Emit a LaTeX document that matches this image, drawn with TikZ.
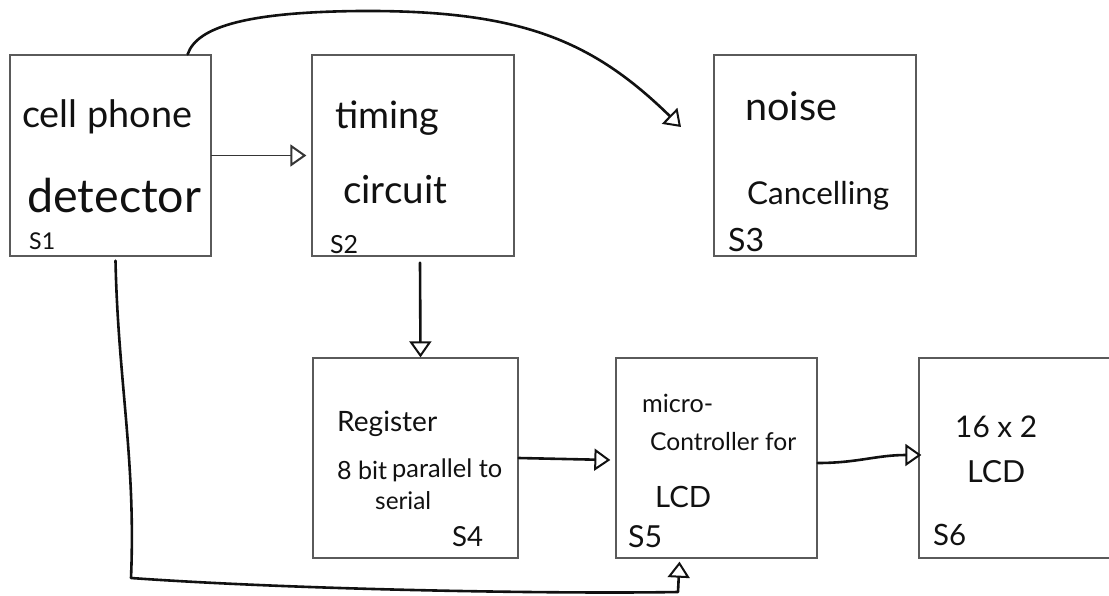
\documentclass[tikz,border=0pt]{standalone}
\usepackage{fontspec}
\usepackage{graphicx}
\setmainfont{Lato}
\usetikzlibrary{arrows.meta,calc}

% scale a label uniformly to a given width
\newcommand{\fitw}[2]{\resizebox{#1}{!}{#2}}

\definecolor{boxgray}{HTML}{5A5A5A}
\definecolor{ink}{HTML}{111111}

\tikzset{
  block/.style={draw=boxgray, line width=1.3pt, inner sep=0pt,
                minimum width=202pt, minimum height=201pt},
  lbl/.style={anchor=base west, inner sep=0pt, text=ink},
  wire/.style={draw=ink, line width=2.6pt, line cap=round, line join=round},
  thinwire/.style={draw=ink!85, line width=1.7pt, line cap=round},
  tipo/.style={-{Triangle[open, length=16pt, width=22pt, line width=2pt]}}
}

\begin{document}
\begin{tikzpicture}[x=1pt, y=-1pt]
\useasboundingbox (0,0) rectangle (1109,595);
\clip (0,0) rectangle (1109,595);

% blocks
\node[block, minimum width=201pt] (s1) at (110.5,155.5) {};
\node[block] (s2) at (413,155.5) {};
\node[block] (s3) at (815,155.5) {};
\node[block, minimum width=205pt, minimum height=200pt] (s4) at (415.5,458) {};
\node[block, minimum width=201pt, minimum height=200pt] (s5) at (716.5,458) {};
\node[block, minimum width=201pt, minimum height=200pt] (s6) at (1019.5,458) {};

% labels of S1
\node[lbl] (l1a) at (22,127) {\fitw{170pt}{cell phone}};
\node[lbl] (l1b) at (27,212) {\fitw{174pt}{detector}};
\node[lbl] (l1c) at (29,249) {\fitw{26pt}{S1}};

% labels of S2
\node[lbl] (l2a) at (335,128) {\fitw{104pt}{timing}};
\node[lbl] (l2b) at (343,203) {\fitw{104pt}{circuit}};
\node[lbl] (l2c) at (330,253) {\fitw{28pt}{S2}};

% labels of S3
\node[lbl] (l3a) at (745,120) {\fitw{92pt}{noise}};
\node[lbl] (l3b) at (747,204) {\fitw{142pt}{Cancelling}};
\node[lbl] (l3c) at (728,251) {\fitw{36pt}{S3}};

% labels of S4
\node[lbl] (l4a) at (337,431) {\fitw{100pt}{Register}};
\node[lbl] (l4b) at (337,479) {\fitw{50pt}{8 bit}};
\node[lbl] (l4c) at (392,477) {\fitw{110pt}{parallel to}};
\node[lbl] (l4d) at (375,509) {\fitw{56pt}{serial}};
\node[lbl] (l4e) at (452,546) {\fitw{31pt}{S4}};

% labels of S5
\node[lbl] (l5a) at (642,412) {\fitw{71pt}{micro-}};
\node[lbl] (l5b) at (650,450) {\fitw{146pt}{Controller for}};
\node[lbl] (l5c) at (655,507) {\fitw{56pt}{LCD}};
\node[lbl] (l5d) at (628,547) {\fitw{34pt}{S5}};

% labels of S6
\node[lbl] (l6a) at (955,437) {\fitw{82pt}{16 x 2}};
\node[lbl] (l6b) at (967,482) {\fitw{58pt}{LCD}};
\node[lbl] (l6c) at (933,545) {\fitw{33pt}{S6}};

% free end of the arrow towards S3
\coordinate (n3) at (681,127);

% S1 -> S2
\draw[thinwire, tipo] (s1.east) -- ([xshift=-5pt]s2.west);

% S1 -> towards S3
\draw[wire, tipo] ([xshift=-24pt]s1.north east)
  .. controls (197,26) and (250,12) .. (360,11)
  .. controls (520,10) and (592,40) .. (n3);

% S2 -> S4
\draw[wire, tipo] ([xshift=7pt, yshift=-6pt]s2.south) -- ([xshift=5pt]s4.north);

% S4 -> S5
\draw[wire, tipo] (s4.east) -- ([xshift=-5pt, yshift=-2pt]s5.west);

% S5 -> S6
\draw[wire, tipo] ([yshift=-5pt]s5.east)
  .. controls +(40,0) and +(-45,0) .. ([xshift=3pt, yshift=3pt]s6.west);

% S1 -> S5 (bottom route)
\draw[wire, tipo] ([xshift=5pt, yshift=-4pt]s1.south)
  .. controls (118,380) and (136,460) .. (131,578)
  .. controls (300,590) and (560,594) .. (678,592)
  -- ([xshift=-37pt, yshift=-3pt]s5.south);
\end{tikzpicture}
\end{document}
